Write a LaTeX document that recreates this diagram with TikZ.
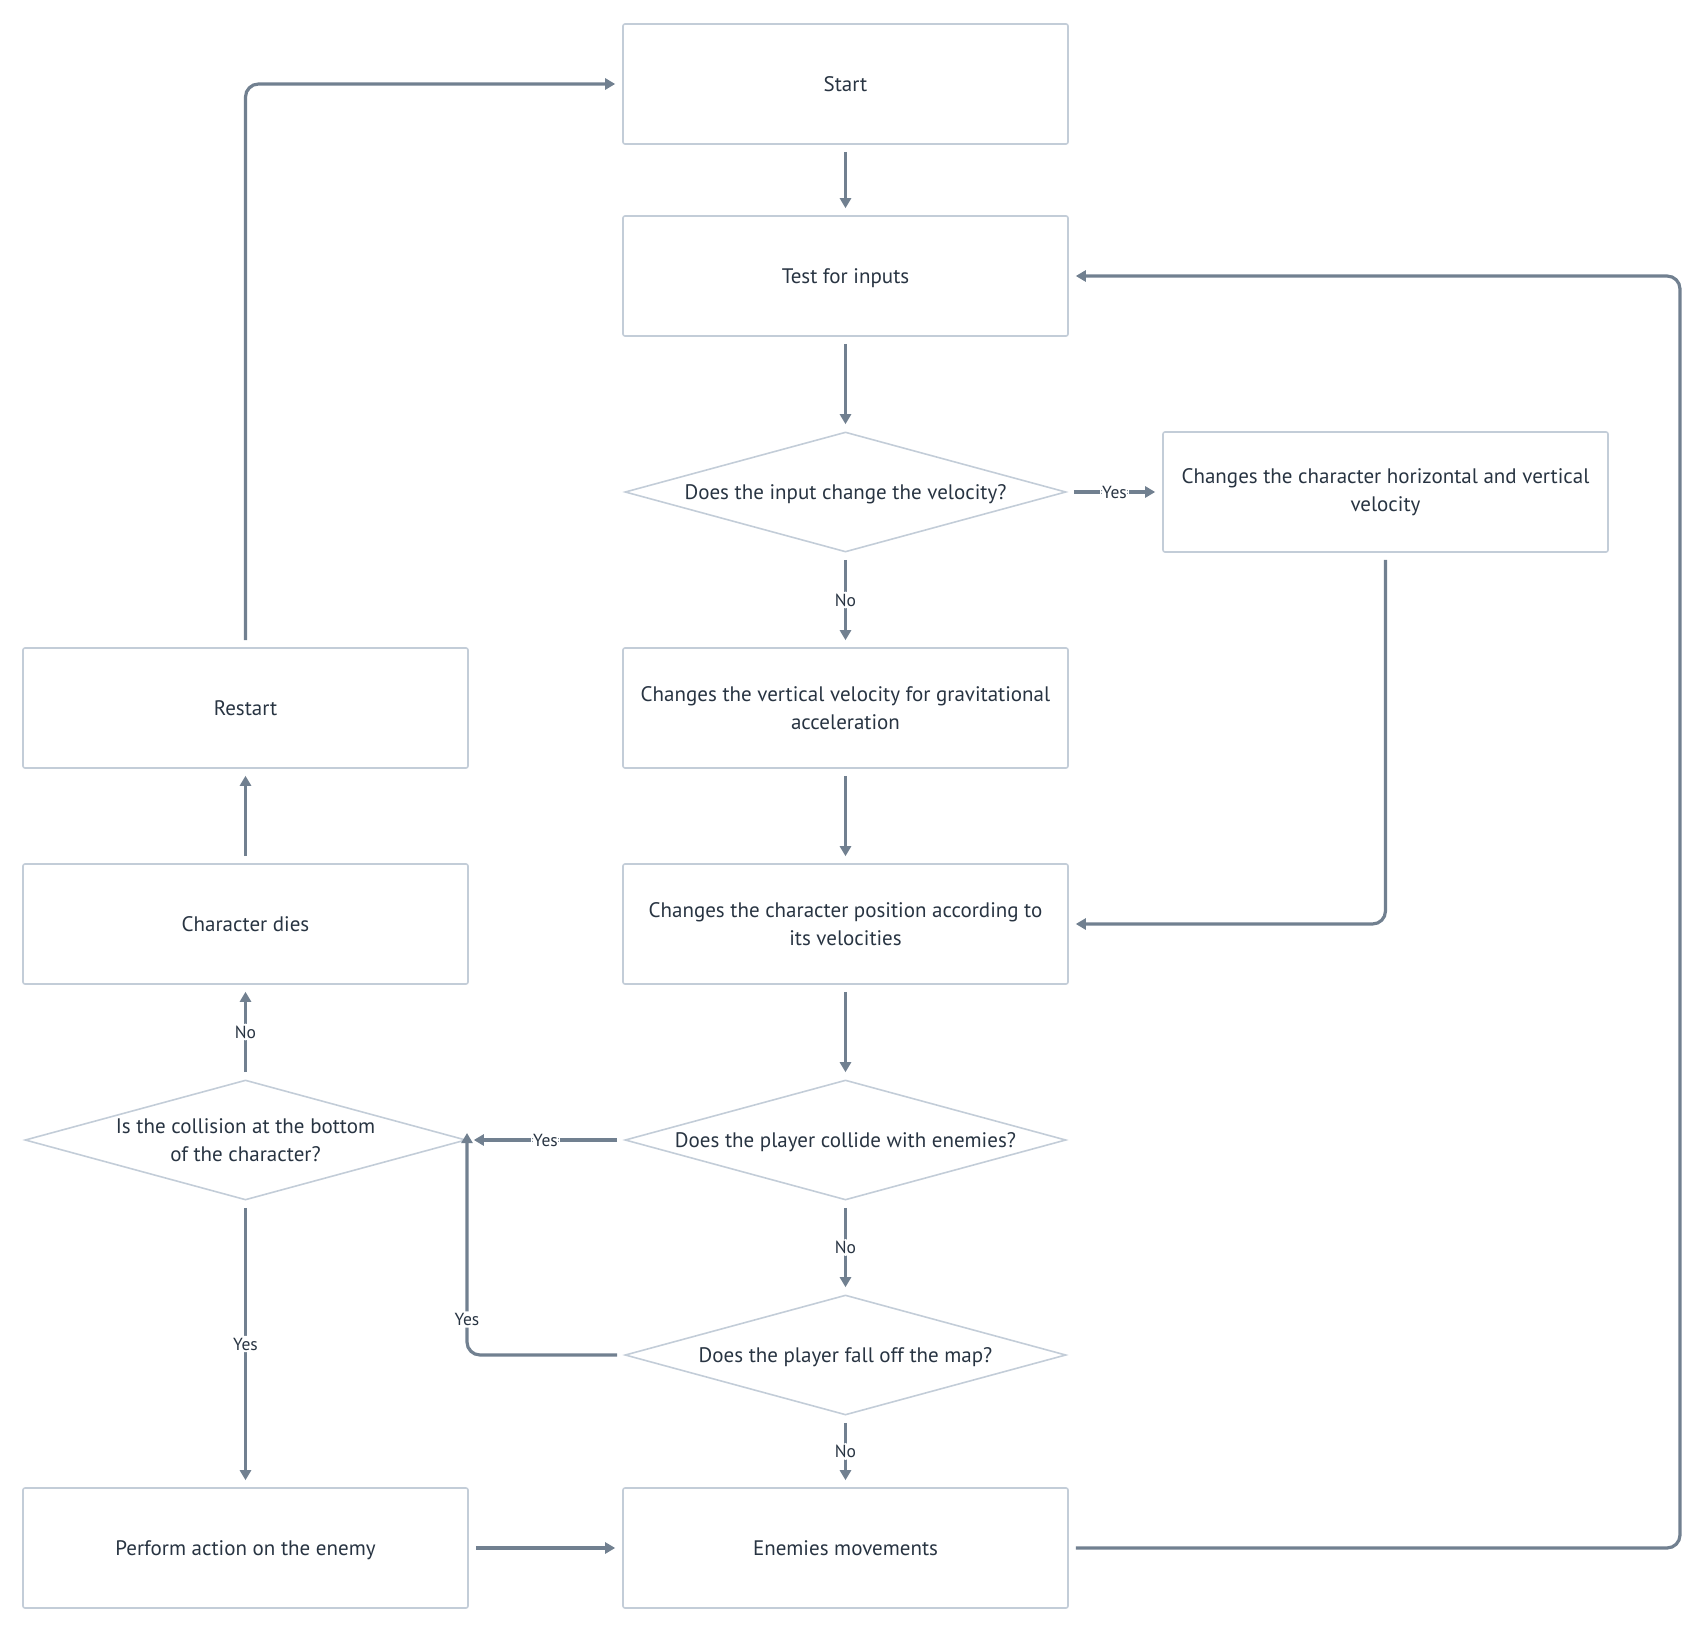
\documentclass[tikz,border=0pt]{standalone}
\usepackage{fontspec}
\setmainfont{PT Sans}
\usetikzlibrary{arrows.meta,shapes.geometric}
\definecolor{boxline}{HTML}{C3CDD8}
\definecolor{flow}{HTML}{718090}
\definecolor{ink}{HTML}{283442}
\begin{document}
\begin{tikzpicture}[x=1pt,y=-1pt,
  procbox/.style={draw=boxline, line width=1.6pt, rounded corners=2pt,
    minimum width=445pt, minimum height=120pt, inner sep=0pt,
    text=ink, align=center, font=\fontsize{21}{28}\selectfont},
  decision/.style={draw=boxline, line width=1.6pt, diamond, inner sep=0pt,
    minimum width=441pt, minimum height=120pt},
  dtext/.style={text=ink, align=center, font=\fontsize{21}{28}\selectfont},
  oneline/.style={text height=15pt, text depth=0pt},
  flowline/.style={draw=flow, line width=3.2pt, rounded corners=13pt,
    shorten <=7pt, shorten >=7pt, -{Triangle[length=10pt,width=11pt]}},
  tag/.style={fill=white, text=ink, inner sep=2pt, font=\fontsize{17.5}{19}\selectfont}]
\useasboundingbox (0,0) rectangle (1708,1632);

% main column
\node[procbox, oneline] (start) at (845.5,84) {Start};
\node[procbox, oneline] (test) at (845.5,276) {Test for inputs};
\node[decision, label={[dtext, oneline]center:Does the input change the velocity?}] (dvel) at (845.5,492) {};
\node[procbox] (grav) at (845.5,708) {Changes the vertical velocity for gravitational\\acceleration};
\node[procbox] (move) at (845.5,924) {Changes the character position according to\\its velocities};
\node[decision, label={[dtext, oneline]center:Does the player collide with enemies?}] (dhit) at (845.5,1140) {};
\node[decision, label={[dtext, oneline]center:Does the player fall off the map?}] (dfall) at (845.5,1355) {};
\node[procbox, oneline] (enemy) at (845.5,1548) {Enemies movements};

% right column
\node[procbox] (hv) at (1385.5,492) {Changes the character horizontal and vertical\\velocity};

% left column
\node[procbox, oneline] (restart) at (245.5,708) {Restart};
\node[procbox, oneline] (dies) at (245.5,924) {Character dies};
\node[decision, label={[dtext]center:Is the collision at the bottom\\of the character?}] (dbottom) at (245.5,1140) {};
\node[procbox, oneline] (act) at (245.5,1548) {Perform action on the enemy};

% connectors
\coordinate (loopTL) at (245.5,84);
\coordinate (loopR1) at (1680,1548);
\coordinate (loopR2) at (1680,276);
\coordinate (hvDown) at (1385.5,924);
\coordinate (fallCorner) at (467,1355);
\coordinate (bottomIn) at (467,1140);

\draw[flowline] (start) -- (test);
\draw[flowline] (test) -- (dvel);
\draw[flowline] (dvel.east) -- node[tag]{Yes} (hv.west);
\draw[flowline] (dvel.south) -- node[tag]{No} (grav.north);
\draw[flowline] (grav) -- (move);
\draw[flowline] (hv.south) -- (hvDown) -- (move.east);
\draw[flowline] (move) -- (dhit);
\draw[flowline] (dhit.west) -- node[tag]{Yes} (dbottom.east);
\draw[flowline] (dhit.south) -- node[tag]{No} (dfall.north);
\draw[flowline] (dfall.south) -- node[tag]{No} (enemy.north);
\draw[flowline, shorten >=0pt] (dfall.west) -- (fallCorner) -- node[tag, pos=0.16]{Yes} ([yshift=7pt]bottomIn);
\draw[flowline] (dbottom.north) -- node[tag]{No} (dies.south);
\draw[flowline] (dbottom.south) -- node[tag]{Yes} (act.north);
\draw[flowline] (dies) -- (restart);
\draw[flowline] (restart.north) -- (loopTL) -- (start.west);
\draw[flowline] (act) -- (enemy);
\draw[flowline] (enemy.east) -- (loopR1) -- (loopR2) -- (test.east);
\end{tikzpicture}
\end{document}
